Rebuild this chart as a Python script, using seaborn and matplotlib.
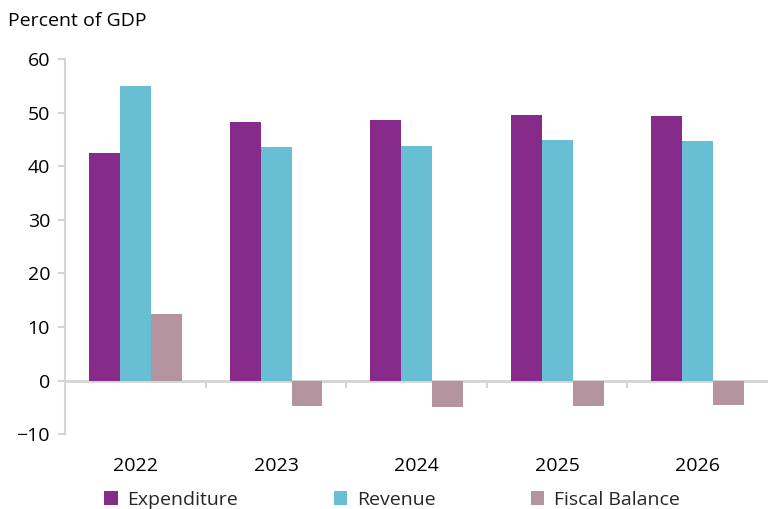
import pandas as pd
import matplotlib.pyplot as plt
import seaborn as sns

# Data (percent of GDP)
years = ['2022', '2023', '2024', '2025', '2026']
expenditure = [42.4, 48.2, 48.7, 49.6, 49.4]
revenue = [55.0, 43.6, 43.8, 44.9, 44.7]
fiscal_balance = [12.5, -4.7, -4.9, -4.7, -4.5]
series = ['Expenditure', 'Revenue', 'Fiscal Balance']
colors = ['#872B8A', '#68BED3', '#B4959F']

df = pd.DataFrame({'year': years, 'Expenditure': expenditure,
                   'Revenue': revenue, 'Fiscal Balance': fiscal_balance})
df = df.melt(id_vars='year', var_name='series', value_name='value')

sns.set_theme(style='white')
plt.rcParams['font.family'] = ['Open Sans', 'DejaVu Sans']

fig = plt.figure(figsize=(7.68, 5.09), dpi=100)
ax = fig.add_axes([0.085, 0.147, 0.915, 0.737])

sns.barplot(data=df, x='year', y='value', hue='series', hue_order=series,
            palette=colors, width=0.66, saturation=1, linewidth=0, ax=ax)

grey = '#d4d4d4'
ax.set_ylim(-10, 60)
ax.set_xlim(-0.5, 4.5)
ax.set_yticks(range(-10, 61, 10))
ax.set_xlabel('')
ax.set_ylabel('')

for s in ['top', 'right']:
    ax.spines[s].set_visible(False)
ax.spines['left'].set_color(grey)
ax.spines['left'].set_linewidth(1.5)
ax.spines['bottom'].set_position(('data', 0))
ax.spines['bottom'].set_color(grey)
ax.spines['bottom'].set_linewidth(2)
ax.spines['bottom'].set_zorder(0)

ax.tick_params(axis='y', left=True, length=5, width=1.5, color=grey,
               labelsize=14, labelcolor='#000000', pad=6)
ax.tick_params(axis='x', which='major', length=0, labelsize=14,
               labelcolor='#000000', pad=55)
ax.set_xticks([0.5, 1.5, 2.5, 3.5], minor=True)
ax.tick_params(axis='x', which='minor', bottom=True, length=5, width=1.5,
               color=grey, direction='out')

fig.text(0.011, 0.958, 'Percent of GDP', fontsize=14, color='#000000',
         ha='left', va='center')

handles, labels = ax.get_legend_handles_labels()
ax.legend(handles, labels, loc='lower center', bbox_to_anchor=(0.465, -0.245),
          ncol=3, frameon=False, fontsize=14, handlelength=0.7,
          handleheight=0.7, handletextpad=0.5, columnspacing=4.9)

fig.savefig('out.png', dpi=100, facecolor='white')
